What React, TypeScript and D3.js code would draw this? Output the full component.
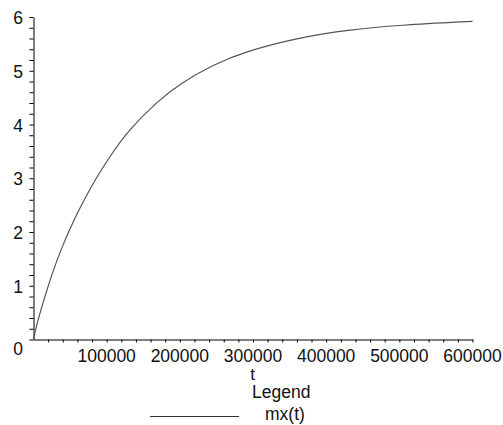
import React, { useRef, useEffect } from "react";
import * as d3 from "d3";

const tValues = [0, 2300, 10000, 25000, 40000, 55000, 70000, 85000, 105000, 130000, 170000, 200000, 245000, 290000, 360000, 430000, 500000, 600000];
const mxValues = [0, 0.17, 0.55, 1.22, 1.76, 2.22, 2.62, 2.99, 3.42, 3.9, 4.44, 4.76, 5.11, 5.36, 5.61, 5.76, 5.85, 5.92];
const xTicks = [100000, 200000, 300000, 400000, 500000, 600000];
const yTicks = [0, 1, 2, 3, 4, 5, 6];
const legendLabels = ["mx(t)"];

export default function App() {
  const svgRef = useRef<SVGSVGElement>(null);
  const width = 503;
  const height = 425;

  useEffect(() => {
    const x = d3.scaleLinear().domain([0, 600000]).range([33.5, 472.5]);
    const y = d3.scaleLinear().domain([0, 6]).range([339.5, 17]);

    const svg = d3.select(svgRef.current);
    svg.selectAll("*").remove();

    const font = "'Liberation Sans', Arial, sans-serif";

    // x axis
    const gx = svg.append("g").attr("transform", `translate(0,${y(0)})`);
    gx.call(d3.axisBottom(x).tickValues(d3.range(20000, 600001, 20000)).tickSize(3).tickFormat(() => "").tickSizeOuter(0));
    gx.select(".domain").attr("stroke", "#000");
    gx.selectAll("line").attr("stroke", "#000");
    svg.append("g")
      .selectAll("text")
      .data(xTicks)
      .enter()
      .append("text")
      .attr("x", d => x(d))
      .attr("y", 362)
      .attr("text-anchor", "middle")
      .style("font-family", font)
      .style("font-size", "17.5px")
      .style("fill", "#111")
      .text(d => String(d));

    // y axis
    const gy = svg.append("g").attr("transform", `translate(${x(0)},0)`);
    gy.call(d3.axisLeft(y).tickValues(d3.range(0, 30.5, 1).map(d => d / 5)).tickSize(4).tickFormat(() => "").tickSizeOuter(0));
    gy.select(".domain").attr("stroke", "#000");
    gy.selectAll("line").attr("stroke", "#000");
    svg.append("g")
      .selectAll("text")
      .data(yTicks)
      .enter()
      .append("text")
      .attr("x", 23)
      .attr("y", d => (d === 0 ? y(d) + 15 : y(d) + 7))
      .attr("text-anchor", "end")
      .style("font-family", font)
      .style("font-size", "17.5px")
      .style("fill", "#111")
      .text(d => String(d));

    // curve
    const line = d3.line<number>()
      .x((d, i) => x(tValues[i]))
      .y(d => y(d))
      .curve(d3.curveBasis);
    svg.append("path")
      .datum(mxValues)
      .attr("d", line)
      .attr("fill", "none")
      .attr("stroke", "#555")
      .attr("stroke-width", 1.2);

    // axis title
    svg.append("text")
      .attr("x", 252.5)
      .attr("y", 380)
      .attr("text-anchor", "middle")
      .style("font-family", font)
      .style("font-size", "17px")
      .style("fill", "#111")
      .text("t");

    // legend
    svg.append("text")
      .attr("x", 252)
      .attr("y", 398)
      .style("font-family", font)
      .style("font-size", "17.5px")
      .style("fill", "#111")
      .text("Legend");
    svg.append("line")
      .attr("x1", 150)
      .attr("x2", 239)
      .attr("y1", 416.5)
      .attr("y2", 416.5)
      .attr("stroke", "#333");
    svg.append("text")
      .attr("x", 265)
      .attr("y", 420)
      .style("font-family", font)
      .style("font-size", "17.5px")
      .style("fill", "#111")
      .text(legendLabels[0]);
  }, []);

  return (
    <svg
      ref={svgRef}
      width={width}
      height={height}
      style={{ position: "absolute", left: 0, top: 0, background: "#fff" }}
    ></svg>
  );
}
